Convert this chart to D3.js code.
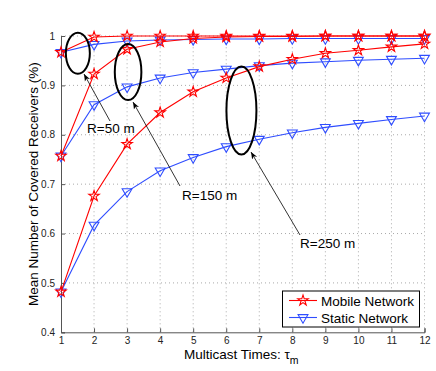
<!DOCTYPE html>
<html><head><meta charset="utf-8">
<script src="https://cdn.jsdelivr.net/npm/d3@7"></script>
<style>body{margin:0;background:#fff}svg{display:block}text{font-family:"Liberation Sans",Arial,sans-serif}</style>
</head><body>
<svg id="c" width="436" height="371"></svg>
<script>
const xTicks = [1,2,3,4,5,6,7,8,9,10,11,12];
const yTicks = [0.4,0.5,0.6,0.7,0.8,0.9,1];
const yTickLabels = ["0.4","0.5","0.6","0.7","0.8","0.9","1"];
const mobileR50  = [0.967,0.998,1.0,1.0,1.0,1.0,1.0,1.0,1.0,1.0,1.0,1.0];
const staticR50  = [0.967,0.983,0.990,0.992,0.993,0.994,0.994,0.995,0.995,0.995,0.995,0.995];
const mobileR150 = [0.757,0.923,0.973,0.988,0.995,0.998,0.999,0.999,1.0,1.0,1.0,1.0];
const staticR150 = [0.757,0.861,0.897,0.915,0.926,0.933,0.940,0.945,0.948,0.951,0.953,0.955];
const mobileR250 = [0.482,0.676,0.781,0.845,0.887,0.915,0.938,0.953,0.965,0.971,0.978,0.984];
const staticR250 = [0.482,0.617,0.685,0.727,0.754,0.776,0.791,0.804,0.815,0.823,0.831,0.838];
const legendLabels = ["Mobile Network","Static Network"];
const annotations = [
  {text:"R=50 m",  ex:1.51, ey:0.965, rx:12, ry:20.5, tx:87,  ty:133, lx:110, ly:121, ax:84,  ay:74},
  {text:"R=150 m", ex:3.03, ey:0.927, rx:13.3, ry:28, tx:182, ty:200, lx:180, ly:186, ax:133, ay:102},
  {text:"R=250 m", ex:6.46, ey:0.849, rx:15, ry:44, tx:300, ty:248, lx:300, ly:235, ax:251, ay:152}
];

const RED = "#ff0000", BLUE = "#2f4dff";
const svg = d3.select("#c");
const x = d3.scaleLinear().domain([1,12]).range([61,424.5]);
const y = d3.scaleLinear().domain([0.4,1]).range([332.3,36]);

// grid
const g = svg.append("g");
g.selectAll(".gx").data(xTicks.slice(1)).enter().append("line")
  .attr("x1",d=>x(d)).attr("x2",d=>x(d)).attr("y1",y(0.4)).attr("y2",y(1))
  .attr("stroke","#aaa").attr("stroke-width",1).attr("stroke-dasharray","1,3");
g.selectAll(".gy").data(yTicks.slice(1)).enter().append("line")
  .attr("y1",d=>y(d)).attr("y2",d=>y(d)).attr("x1",x(1)).attr("x2",x(12))
  .attr("stroke","#aaa").attr("stroke-width",1).attr("stroke-dasharray","1,3");

// axes
const xAxis = d3.axisBottom(x).tickValues(xTicks).tickSize(-4).tickPadding(5).tickFormat(d3.format("d"));
const yAxis = d3.axisLeft(y).tickValues(yTicks).tickSize(-4).tickPadding(6).tickFormat((d,i)=>yTickLabels[i]);
const gx = svg.append("g").attr("transform",`translate(0,${y(0.4)})`).call(xAxis);
const gy = svg.append("g").attr("transform",`translate(${x(1)},0)`).call(yAxis);
[gx,gy].forEach(a=>{
  a.select(".domain").attr("stroke","#555");
  a.selectAll(".tick line").attr("stroke","#555");
  a.selectAll("text").attr("font-size",10).attr("fill","#222").attr("font-family","Liberation Sans, Arial, sans-serif");
});

// series
const star = d3.symbol().type(d3.symbolStar).size(34);
const tri = d3.symbol().type(d3.symbolTriangle).size(42);
function series(vals, color, type){
  const data = vals.map((v,i)=>[xTicks[i],v]);
  svg.append("path").datum(data)
    .attr("d", d3.line().x(d=>x(d[0])).y(d=>y(d[1])))
    .attr("fill","none").attr("stroke",color).attr("stroke-width",1.1);
  svg.selectAll(null).data(data).enter().append("path")
    .attr("d", type==="star"?star():tri())
    .attr("transform", d=>`translate(${x(d[0])},${y(d[1])})${type==="star"?"":" rotate(180)"}`)
    .attr("fill","none").attr("stroke",color).attr("stroke-width",1.1);
}
series(staticR250, BLUE, "tri");
series(staticR150, BLUE, "tri");
series(staticR50, BLUE, "tri");
series(mobileR250, RED, "star");
series(mobileR150, RED, "star");
series(mobileR50, RED, "star");

// annotations
const defs = svg.append("defs");
defs.append("marker").attr("id","ah").attr("viewBox","0 0 10 10").attr("refX",10).attr("refY",5)
  .attr("markerWidth",9).attr("markerHeight",9).attr("orient","auto")
  .append("path").attr("d","M0,1 L10,5 L0,9 L3,5 Z").attr("fill","#000");
annotations.forEach(a=>{
  svg.append("ellipse").attr("cx",x(a.ex)).attr("cy",y(a.ey)).attr("rx",a.rx).attr("ry",a.ry)
    .attr("fill","none").attr("stroke","#000").attr("stroke-width",2);
  svg.append("line").attr("x1",a.lx).attr("y1",a.ly).attr("x2",a.ax).attr("y2",a.ay)
    .attr("stroke","#000").attr("stroke-width",0.8).attr("marker-end","url(#ah)");
  svg.append("text").attr("x",a.tx).attr("y",a.ty).attr("font-size",13.5).attr("fill","#000").text(a.text);
});

// axis labels
svg.append("text").attr("transform",`translate(38,${(y(0.4)+y(1))/2}) rotate(-90)`)
  .attr("text-anchor","middle").attr("font-size",13.5).text("Mean Number of Covered Receivers (%)");
const xl = svg.append("text").attr("x",184).attr("y",359).attr("font-size",13.5);
xl.append("tspan").text("Multicast Times: τ");
xl.append("tspan").attr("dy",5).attr("font-size",10.5).text("m");

// legend
const lg = svg.append("g");
lg.append("rect").attr("x",282.5).attr("y",291).attr("width",137).attr("height",36)
  .attr("fill","#fff").attr("stroke","#000").attr("stroke-width",1);
[[RED,"star"],[BLUE,"tri"]].forEach((s,i)=>{
  const yy = 300.5 + i*17;
  lg.append("line").attr("x1",289).attr("x2",317).attr("y1",yy).attr("y2",yy).attr("stroke",s[0]).attr("stroke-width",1.1);
  lg.append("path").attr("d", s[1]==="star"?star():tri())
    .attr("transform",`translate(303,${yy})${s[1]==="star"?"":" rotate(180)"}`)
    .attr("fill","none").attr("stroke",s[0]).attr("stroke-width",1.1);
  lg.append("text").attr("x",321).attr("y",yy+5).attr("font-size",13.5).text(legendLabels[i]);
});
</script>
</body></html>
